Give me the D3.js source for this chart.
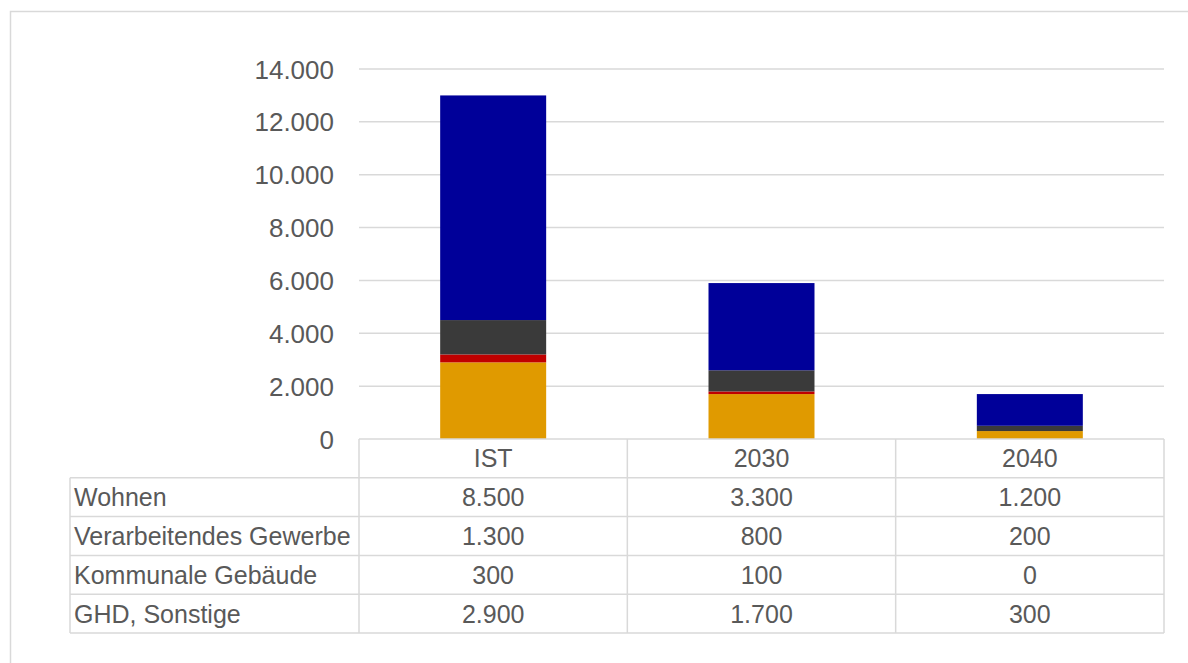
<!DOCTYPE html>
<html><head><meta charset="utf-8">
<script src="https://cdn.jsdelivr.net/npm/d3@7"></script>
<style>body{margin:0;background:#fff}svg{display:block}text{font-family:"Liberation Sans",Arial,sans-serif;fill:#595959}</style>
</head><body>
<svg id="c" width="1188" height="663"></svg>
<script>
const categories = ["IST", "2030", "2040"];
const seriesNames = ["Wohnen", "Verarbeitendes Gewerbe", "Kommunale Gebäude", "GHD, Sonstige"];
const wohnen = [8500, 3300, 1200];
const gewerbe = [1300, 800, 200];
const kommunal = [300, 100, 0];
const ghd = [2900, 1700, 300];
const yTicks = [0, 2000, 4000, 6000, 8000, 10000, 12000, 14000];
const colors = {"GHD, Sonstige":"#E09A00","Kommunale Gebäude":"#C00000","Verarbeitendes Gewerbe":"#3A3A3A","Wohnen":"#000099"};

const rows = {"Wohnen":wohnen,"Verarbeitendes Gewerbe":gewerbe,"Kommunale Gebäude":kommunal,"GHD, Sonstige":ghd};
const table = categories.map((c,i)=>{const o={cat:c};seriesNames.forEach(s=>o[s]=rows[s][i]);return o;});
const stackOrder = ["GHD, Sonstige","Kommunale Gebäude","Verarbeitendes Gewerbe","Wohnen"];
const stacked = d3.stack().keys(stackOrder)(table);

const svg = d3.select("#c");
const fmt = v => d3.format(",")(v).replace(/,/g,".");
const L=359, R=1164, T=69, B=439;
const x = d3.scaleBand().domain(categories).range([L,R]).paddingInner(0.605).paddingOuter(0.3025);
const xc = d3.scaleBand().domain(categories).range([L,R]);
const y = d3.scaleLinear().domain([0,14000]).range([B,T]);

// outer border
svg.append("rect").attr("x",10.5).attr("y",11.5).attr("width",1190).attr("height",700).attr("fill","none").attr("stroke","#d9d9d9").attr("stroke-width",1.5);

// gridlines
svg.append("g").selectAll("line").data(yTicks.filter(t=>t>0)).join("line")
 .attr("x1",L).attr("x2",R).attr("y1",d=>y(d)).attr("y2",d=>y(d)).attr("stroke","#d9d9d9").attr("stroke-width",1.5);

// tick labels
svg.append("g").selectAll("text").data(yTicks).join("text")
 .attr("x",334).attr("y",d=>y(d)+9.5).attr("text-anchor","end").attr("font-size",26).text(d=>fmt(d));

// bars
svg.append("g").selectAll("g").data(stacked).join("g").attr("fill",d=>colors[d.key])
 .selectAll("rect").data(d=>d).join("rect")
 .attr("x",d=>x(d.data.cat)).attr("width",x.bandwidth())
 .attr("y",d=>y(d[1])).attr("height",d=>y(d[0])-y(d[1]));

// table
const rowH = 38.8, tLeft = 70;
const lineC = "#d9d9d9";
const fs = 25;
const tg = svg.append("g");
const hLines = [B, B+rowH, B+2*rowH, B+3*rowH, B+4*rowH, B+5*rowH];
hLines.forEach((yy,i)=>{
  tg.append("line").attr("x1", i===0? L : tLeft).attr("x2",R).attr("y1",yy).attr("y2",yy).attr("stroke",lineC).attr("stroke-width",1.5);
});
[L, ...categories.map(c=>xc(c)+xc.bandwidth())].forEach(xx=>{
  tg.append("line").attr("x1",xx).attr("x2",xx).attr("y1",B).attr("y2",B+5*rowH).attr("stroke",lineC).attr("stroke-width",1.5);
});
tg.append("line").attr("x1",tLeft).attr("x2",tLeft).attr("y1",B+rowH).attr("y2",B+5*rowH).attr("stroke",lineC).attr("stroke-width",1.5);

tg.selectAll("text.h").data(categories).join("text").attr("class","h")
 .attr("x",d=>xc(d)+xc.bandwidth()/2).attr("y",B+rowH/2+9).attr("text-anchor","middle").attr("font-size",fs).text(d=>d);
seriesNames.forEach((s,ri)=>{
  const yy = B+rowH*(ri+1)+rowH/2+9;
  tg.append("text").attr("x",tLeft+4).attr("y",yy).attr("font-size",fs).text(s);
  tg.selectAll(null).data(categories).join("text")
   .attr("x",(d)=>xc(d)+xc.bandwidth()/2).attr("y",yy).attr("text-anchor","middle").attr("font-size",fs)
   .text((d,i)=>fmt(rows[s][i]));
});
</script>
</body></html>
